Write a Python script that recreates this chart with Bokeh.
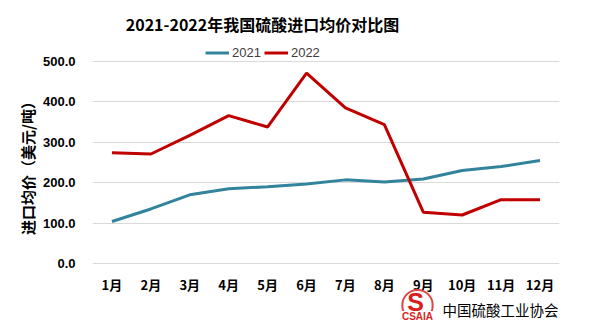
from bokeh.plotting import figure
from bokeh.models import (Legend, LegendItem, Label, NumeralTickFormatter,
                          FactorRange, FixedTicker, Range1d)
from bokeh.embed import file_html
from bokeh.resources import INLINE

months = ["1月", "2月", "3月", "4月", "5月", "6月", "7月", "8月", "9月", "10月", "11月", "12月"]
price_2021 = [104, 135, 170, 185, 190, 197, 207, 202, 209, 230, 240, 255]
price_2022 = [274, 271, 317, 366, 338, 471, 385, 344, 127, 120, 158, 158]
y_ticks = [0, 100, 200, 300, 400, 500]
series_names = ["2021", "2022"]
colors = ["#31849B", "#C00000"]
title_text = "2021-2022年我国硫酸进口均价对比图"
org_text = "中国硫酸工业协会"

CJK = "Noto Sans CJK SC"

# layout (pixels): canvas 605x328, plot frame spans full height,
# value 500 sits at y=61 px and value 0 at y=263 px
W, H = 605, 328
LEFT, RIGHT = 92, 46
TOP_PX, ZERO_PX = 61, 263
per_px = (y_ticks[-1] - y_ticks[0]) / (ZERO_PX - TOP_PX)
y_end = y_ticks[-1] + TOP_PX * per_px
y_start = y_ticks[0] - (H - ZERO_PX) * per_px

p = figure(width=W, height=H, x_range=FactorRange(*months, range_padding=0),
           y_range=Range1d(y_start, y_end), output_backend="svg",
           toolbar_location=None, min_border=0,
           min_border_left=LEFT, min_border_right=RIGHT, min_border_top=0,
           min_border_bottom=0)
p.outline_line_color = None
p.background_fill_color = "white"
p.border_fill_color = "white"

r1 = p.line(months, price_2021, line_color=colors[0], line_width=3)
r2 = p.line(months, price_2022, line_color=colors[1], line_width=3)

p.yaxis.ticker = FixedTicker(ticks=y_ticks)
p.yaxis.formatter = NumeralTickFormatter(format="0.0")
p.yaxis.axis_line_color = None
p.yaxis.major_tick_line_color = None
p.yaxis.minor_tick_line_color = None
p.yaxis.major_tick_out = 0
p.yaxis.major_tick_in = 0
p.yaxis.major_label_text_font = "Liberation Sans"
p.yaxis.major_label_text_font_style = "bold"
p.yaxis.major_label_text_font_size = "13px"
p.yaxis.major_label_text_color = "#000000"
p.yaxis.major_label_standoff = 17
p.yaxis.axis_label = "进口均价（美元/吨）"
p.yaxis.axis_label_text_font = CJK
p.yaxis.axis_label_text_font_style = "bold"
p.yaxis.axis_label_text_font_size = "15px"
p.yaxis.axis_label_text_color = "#000000"
p.yaxis.axis_label_standoff = 2

p.xaxis.fixed_location = y_ticks[0]
p.xaxis.axis_line_color = None
p.xaxis.major_tick_line_color = None
p.xaxis.minor_tick_line_color = None
p.xaxis.major_tick_out = 0
p.xaxis.major_tick_in = 0
p.xaxis.major_label_text_font = CJK
p.xaxis.major_label_text_font_style = "bold"
p.xaxis.major_label_text_font_size = "13px"
p.xaxis.major_label_text_color = "#000000"
p.xaxis.major_label_standoff = 11

p.xgrid.grid_line_color = None
p.ygrid.ticker = FixedTicker(ticks=y_ticks)
p.ygrid.grid_line_color = "#D9D9D9"
p.ygrid.grid_line_width = 1


def fx(px):  # canvas x -> frame screen x
    return px - LEFT


def fy(py):  # canvas y (from top) -> frame screen y (from bottom)
    return H - py


p.add_layout(Label(x=fx(262), y=fy(23), x_units="screen", y_units="screen",
                   text=title_text, text_align="center", text_baseline="middle",
                   text_font=CJK, text_font_style="bold", text_font_size="16px",
                   text_color="#000000"))

legend = Legend(items=[LegendItem(label=series_names[0], renderers=[r1]),
                       LegendItem(label=series_names[1], renderers=[r2])],
                location=(fx(205), fy(60)), orientation="horizontal",
                padding=0, margin=0, spacing=3, glyph_width=24, glyph_height=13,
                label_height=13, label_standoff=3, label_text_font="Liberation Sans",
                label_text_font_size="13px", label_text_color="#404040",
                border_line_color=None, background_fill_alpha=0)
p.add_layout(legend, "center")

# logo
p.add_layout(Label(x=fx(417), y=fy(305), x_units="screen", y_units="screen", text=" ",
                   text_align="center", text_baseline="middle", text_font_size="1px",
                   padding=15, border_radius=15, border_line_color="#E04545",
                   border_line_width=2, background_fill_color="white"))
p.add_layout(Label(x=fx(415), y=fy(301), x_units="screen", y_units="screen", text="S",
                   text_align="center", text_baseline="middle",
                   text_font="Liberation Sans", text_font_style="bold",
                   text_font_size="25px", text_color="#D91E1E"))
p.add_layout(Label(x=fx(417), y=fy(316), x_units="screen", y_units="screen",
                   text="CSAIA", text_align="center", text_baseline="middle",
                   text_font="Liberation Sans", text_font_style="bold",
                   text_font_size="10px", text_color="#D91E1E",
                   background_fill_color="white", padding=0))
p.add_layout(Label(x=fx(442), y=fy(309), x_units="screen", y_units="screen",
                   text=org_text, text_align="left", text_baseline="middle",
                   text_font=CJK, text_font_size="14.5px", text_color="#000000"))

open("out.html", "w").write(file_html(p, INLINE))
